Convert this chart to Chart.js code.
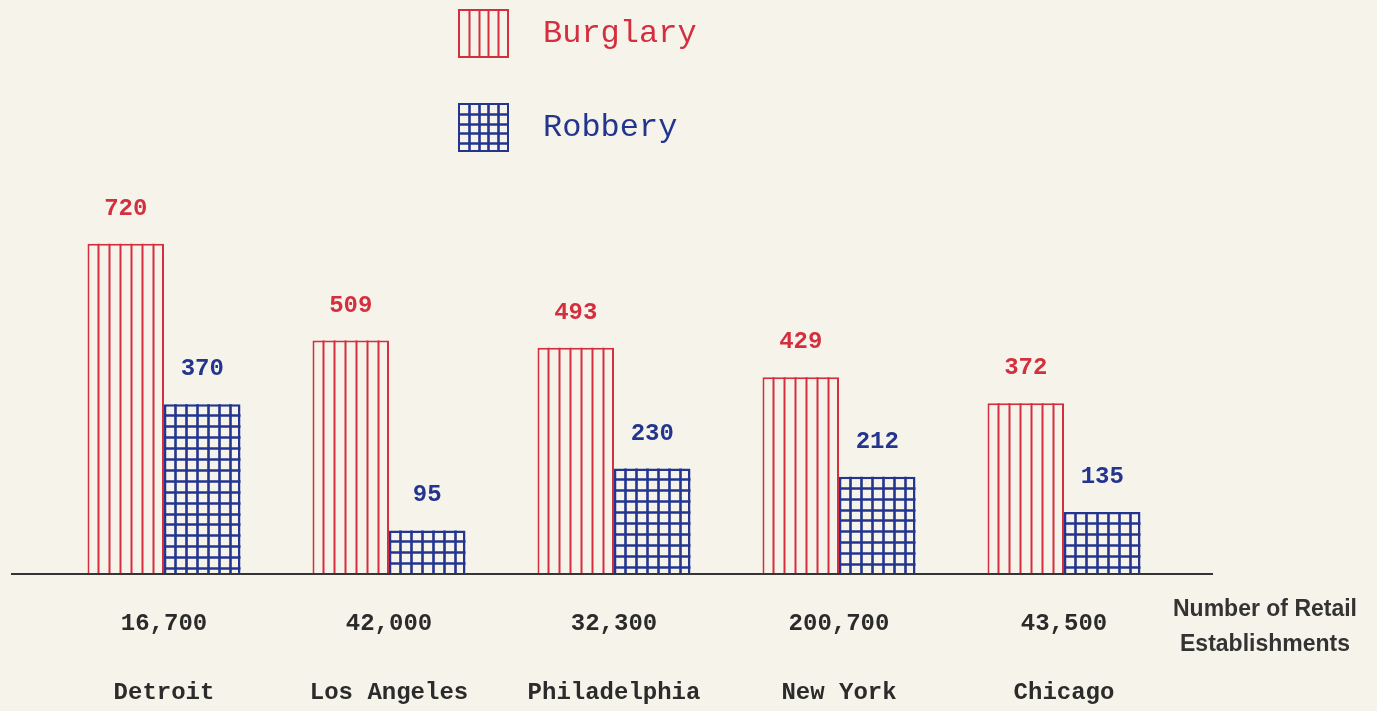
<!DOCTYPE html>
<html>
<head>
<meta charset="utf-8">
<title>Burglary and Robbery</title>
<script src="https://cdn.jsdelivr.net/npm/chart.js@4.4.1/dist/chart.umd.min.js"></script>
<style>
    html, body { margin: 0; padding: 0; background: #f6f4ea; }
    #wrap { position: relative; width: 1377px; height: 711px; }
</style>
</head>
<body>
<div id="wrap"><canvas id="grafico"></canvas></div>
<script>
// Datos
const ciudades = ['Detroit', 'Los Angeles', 'Philadelphia', 'New York', 'Chicago'];
const establecimientos = ['16,700', '42,000', '32,300', '200,700', '43,500'];
const robos = [720, 509, 493, 429, 372];      // Burglary
const atracos = [370, 95, 230, 212, 135];     // Robbery
const tituloEje = ['Number of Retail', 'Establishments'];

const ROJO = '#d42f3e';
const AZUL = '#23358f';
const TINTA = '#2b2b2b';
const FONDO = '#f6f4ea';
const MONO = '"Liberation Mono", "DejaVu Sans Mono", monospace';
const SANS = '"Liberation Sans", "Roboto", sans-serif';

// Rayas verticales o cuadrícula dentro de un rectángulo
function rellenar(ctx, x0, y0, w, h, tipo, color, columnas) {
    const paso = w / columnas;
    ctx.save();
    ctx.strokeStyle = color;
    ctx.lineWidth = tipo === 'rayas' ? 2 : 2.6;
    ctx.beginPath();
    for (let i = 1; i < columnas; i++) {
        const x = Math.round(x0 + i * paso) + 0.5;
        ctx.moveTo(x, y0);
        ctx.lineTo(x, y0 + h);
    }
    if (tipo === 'cuadricula') {
        for (let y = y0 + paso; y < y0 + h - 2; y += paso) {
            ctx.moveTo(x0, Math.round(y) + 0.5);
            ctx.lineTo(x0 + w, Math.round(y) + 0.5);
        }
    }
    ctx.stroke();
    ctx.restore();
}

const pluginTramas = {
    id: 'tramas',
    afterDatasetsDraw(chart) {
        const ctx = chart.ctx;
        chart.data.datasets.forEach((ds, i) => {
            const meta = chart.getDatasetMeta(i);
            meta.data.forEach((bar, j) => {
                const p = bar.getProps(['x', 'y', 'base', 'width'], true);
                const x0 = p.x - p.width / 2;
                rellenar(ctx, x0, p.y, p.width, p.base - p.y, ds.trama, ds.borderColor, 7);
                // valor encima de la barra
                ctx.save();
                ctx.fillStyle = ds.borderColor;
                ctx.font = 'bold 24px ' + MONO;
                ctx.textAlign = 'center';
                ctx.textBaseline = 'middle';
                ctx.fillText(String(ds.data[j]), p.x, p.y - 35);
                ctx.restore();
            });
        });
    }
};

const pluginLineaBase = {
    id: 'lineaBase',
    afterDatasetsDraw(chart) {
        const ctx = chart.ctx;
        const y = chart.chartArea.bottom;
        ctx.save();
        ctx.strokeStyle = '#353535';
        ctx.lineWidth = 2;
        ctx.beginPath();
        ctx.moveTo(11, y);
        ctx.lineTo(1213, y);
        ctx.stroke();
        // título del eje a la derecha
        ctx.fillStyle = '#333';
        ctx.font = 'bold 23px ' + SANS;
        ctx.textAlign = 'center';
        ctx.textBaseline = 'middle';
        ctx.fillText(tituloEje[0], 1265, y + 36);
        ctx.fillText(tituloEje[1], 1265, y + 71);
        ctx.restore();
    }
};

const pluginLeyenda = {
    id: 'leyendaPropia',
    afterDraw(chart) {
        const ctx = chart.ctx;
        const filas = [10, 104];
        chart.data.datasets.forEach((ds, i) => {
            const x = 459, y = filas[i], w = 49, h = 47;
            ctx.save();
            ctx.fillStyle = FONDO;
            ctx.fillRect(x, y, w, h);
            rellenar(ctx, x, y, w, h, ds.trama, ds.borderColor, 5);
            ctx.strokeStyle = ds.borderColor;
            ctx.lineWidth = 2;
            ctx.strokeRect(x, y, w, h);
            ctx.fillStyle = ds.borderColor;
            ctx.font = '32px ' + MONO;
            ctx.textAlign = 'left';
            ctx.textBaseline = 'middle';
            ctx.fillText(ds.label, 543, y + h / 2);
            ctx.restore();
        });
    }
};

new Chart(document.getElementById('grafico'), {
    type: 'bar',
    data: {
        labels: ciudades.map((c, i) => [establecimientos[i], c]),
        datasets: [
            {
                label: 'Burglary',
                data: robos,
                trama: 'rayas',
                backgroundColor: FONDO,
                borderColor: ROJO,
                borderWidth: 2,
                categoryPercentage: 0.68,
                barPercentage: 1.0
            },
            {
                label: 'Robbery',
                data: atracos,
                trama: 'cuadricula',
                backgroundColor: FONDO,
                borderColor: AZUL,
                borderWidth: 2.5,
                categoryPercentage: 0.68,
                barPercentage: 1.0
            }
        ]
    },
    options: {
        responsive: true,
        maintainAspectRatio: false,
        animation: false,
        layout: {
            padding: { left: 51.5, right: 200.5, top: 207, bottom: 0 }
        },
        scales: {
            y: {
                display: false,
                min: 0,
                max: 800
            },
            x: {
                grid: { display: false, drawTicks: false },
                border: { display: false },
                afterFit(scale) { scale.height = 137; },
                ticks: {
                    color: TINTA,
                    padding: 15,
                    maxRotation: 0,
                    autoSkip: false,
                    font: { family: MONO, size: 24, weight: 'bold', lineHeight: 2.875 }
                }
            }
        },
        plugins: {
            legend: { display: false },
            tooltip: { enabled: false }
        }
    },
    plugins: [pluginTramas, pluginLineaBase, pluginLeyenda]
});
</script>
</body>
</html>
